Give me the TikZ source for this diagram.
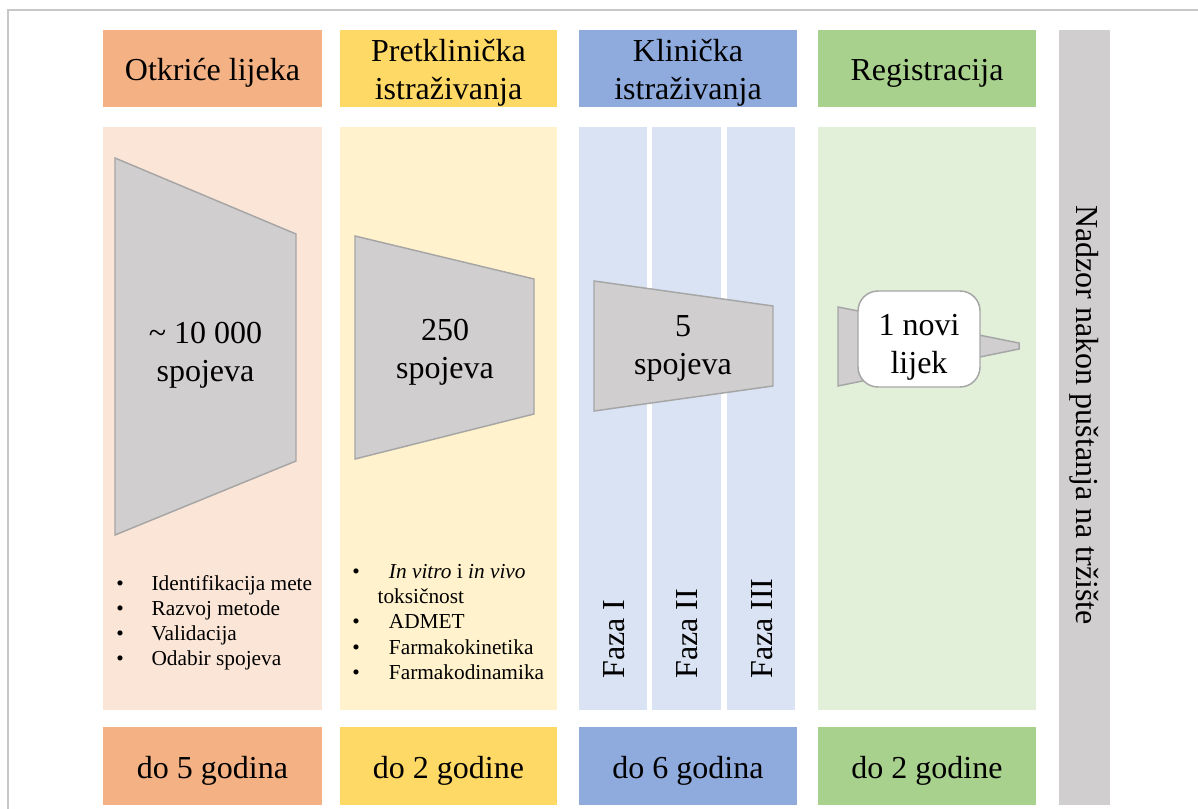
\documentclass[tikz,border=0pt]{standalone}
\usepackage{fontspec}
\setmainfont{Liberation Serif}[Ligatures=TeX]
\newfontfamily\tnr{Liberation Serif}[Ligatures=TeX]
\definecolor{orH}{HTML}{F4B183}
\definecolor{orL}{HTML}{FBE5D6}
\definecolor{yeH}{HTML}{FFD966}
\definecolor{yeL}{HTML}{FFF2CC}
\definecolor{blH}{HTML}{8FAADC}
\definecolor{blL}{HTML}{DAE3F3}
\definecolor{grH}{HTML}{A9D18E}
\definecolor{grL}{HTML}{E2F0D9}
\definecolor{colgray}{HTML}{D0CECE}
\definecolor{trapfill}{HTML}{D0CECE}
\definecolor{trapline}{HTML}{A6A6A6}
\definecolor{framecol}{HTML}{C8C8C8}
\begin{document}
\begin{tikzpicture}[x=0.75pt,y=-0.75pt,
  big/.style={font=\tnr\fontsize{24pt}{28.5pt}\selectfont, align=center, inner sep=0pt, text=black},
  small/.style={font=\tnr\fontsize{16pt}{18.8pt}\selectfont, align=left, inner sep=0pt, text=black},
  trap/.style={fill=trapfill, draw=trapline, line width=1.1pt, line join=miter},
  bubble/.style={fill=white, draw=trapline, line width=1.1pt, rounded corners=15pt}
]
\useasboundingbox (0,0) rectangle (1198,809);
\fill[white] (0,0) rectangle (1198,809);
% frame
\draw[framecol, line width=1.5pt] (8,809) -- (8,10) -- (1198,10);

% headers
\fill[orH] (103,30) rectangle (322,107);
\fill[yeH] (340,30) rectangle (557,107);
\fill[blH] (579,30) rectangle (797,107);
\fill[grH] (818,30) rectangle (1036,107);
\node[big] (h1) at (212.5,73) {Otkriće lijeka};
\node[big] (h2) at (448.5,73) {Pretklinička\\istraživanja};
\node[big] (h3) at (688,73) {Klinička\\istraživanja};
\node[big] (h4) at (927,73) {Registracija};

% bodies
\fill[orL] (103,127) rectangle (322,710);
\fill[yeL] (340,127) rectangle (557,710);
\fill[blL] (579,127) rectangle (647,710);
\fill[blL] (652,127) rectangle (721,710);
\fill[blL] (727,127) rectangle (795,710);
\fill[grL] (818,127) rectangle (1036,710);

% footers
\fill[orH] (103,727) rectangle (322,805);
\fill[yeH] (340,727) rectangle (557,805);
\fill[blH] (579,727) rectangle (797,805);
\fill[grH] (818,727) rectangle (1036,805);
\node[big] (d1) at (212.5,771) {do 5 godina};
\node[big] (d2) at (448.5,771) {do 2 godine};
\node[big] (d3) at (688,771) {do 6 godina};
\node[big] (d4) at (927,771) {do 2 godine};

% gray column
\fill[colgray] (1059,30) rectangle (1110,805);
\node[big, rotate=-90] (nadzor) at (1084.5,415) {Nadzor nakon puštanja na tržište};

% funnels
\draw[trap] (115,158) -- (296,234) -- (296,461) -- (115,535) -- cycle;
\node[big] (t1) at (205.5,355) {\textasciitilde{} 10 000\\spojeva};
\draw[trap] (355,236) -- (534,279) -- (534,414) -- (355,459) -- cycle;
\node[big] (t2) at (445,352) {250\\spojeva};
\draw[trap] (594,281) -- (773,306) -- (773,386) -- (594,411) -- cycle;
\node[big] (t3) at (683,348) {5\\spojeva};
\draw[trap] (838,307) -- (1019,343) -- (1019,349) -- (838,386) -- cycle;
\node[bubble, minimum width=91.5pt, minimum height=72pt] (b4) at (919,339) {};
\node[big] (t4) at (919,347) {1 novi\\lijek};

% phases
\node[big, rotate=90, anchor=west] (f1) at (614,679) {Faza I};
\node[big, rotate=90, anchor=west] (f2) at (687,679) {Faza II};
\node[big, rotate=90, anchor=west] (f3) at (762,679) {Faza III};

% bullet lists
\node[small, anchor=west] (l1) at (116,623) {%
\makebox[26.5pt][l]{\textbullet}Identifikacija mete\\
\makebox[26.5pt][l]{\textbullet}Razvoj metode\\
\makebox[26.5pt][l]{\textbullet}Validacija\\
\makebox[26.5pt][l]{\textbullet}Odabir spojeva};
\node[small, anchor=west] (l2) at (352,622) {%
\makebox[27.5pt][l]{\textbullet}\textit{In vitro} i \textit{in vivo}\\
\makebox[19pt][l]{\strut}toksičnost\\
\makebox[27.5pt][l]{\textbullet}ADMET\\
\makebox[27.5pt][l]{\textbullet}Farmakokinetika\\
\makebox[27.5pt][l]{\textbullet}Farmakodinamika};
\end{tikzpicture}
\end{document}
